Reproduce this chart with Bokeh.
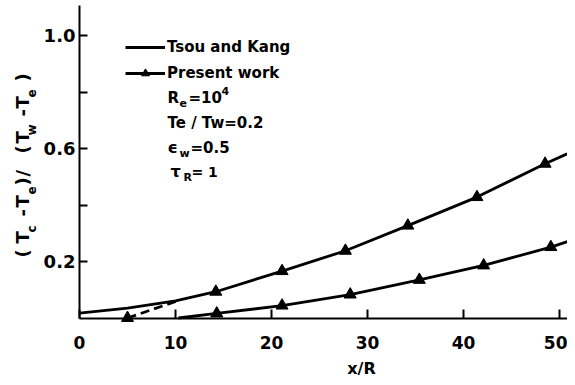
import math
from bokeh.plotting import figure
from bokeh.models import (Range1d, Label, Legend, LegendItem, FixedTicker,
                          PrintfTickFormatter)
from bokeh.embed import file_html
from bokeh.resources import INLINE

# ---------------- data ----------------
tsou_x = [0.0, 5.0, 10.0, 14.2, 21.1, 27.7, 34.2, 41.4, 48.5, 50.8]
tsou_y = [0.017, 0.035, 0.061, 0.093, 0.166, 0.238, 0.327, 0.428, 0.546, 0.581]

upper_tri_x = [5.0, 14.2, 21.1, 27.7, 34.2, 41.4, 48.5]
upper_tri_y = [0.0, 0.093, 0.166, 0.238, 0.327, 0.428, 0.546]

dash_x = [5.0, 10.5]
dash_y = [0.0, 0.064]

lower_x = [10.3, 14.3, 21.1, 28.2, 35.4, 42.1, 49.1, 51.7]
lower_y = [0.0, 0.016, 0.044, 0.083, 0.135, 0.186, 0.251, 0.280]

lower_tri_x = [14.3, 21.1, 28.2, 35.4, 42.1, 49.1]
lower_tri_y = [0.016, 0.044, 0.083, 0.135, 0.186, 0.251]

x_ticks = [0, 10, 20, 30, 40, 50]
y_ticks = [0.2, 0.4, 0.6, 0.8, 1.0]
y_tick_labels = {0.4: "", 0.8: ""}

# ---------------- layout helpers (picture px -> data) ----------------
W, H = 567, 377
X0, XS = 79.0, 9.6
Y0, YS = 317.5, 282.5
def dx(px):
    return (px - X0) / XS
def dy(py):
    return (Y0 - py) / YS

FONT = "DejaVu Sans"

p = figure(width=W, height=H,
           x_range=Range1d(dx(0), dx(W)),
           y_range=Range1d(dy(H), dy(0)),
           output_backend="svg", toolbar_location=None,
           min_border_left=0, min_border_right=0,
           min_border_top=0, min_border_bottom=0)
p.outline_line_color = None
p.grid.visible = False
p.background_fill_color = "white"
p.border_fill_color = "white"

# axes (drawn at x = 0 and y = 0)
for ax in (p.xaxis[0], p.yaxis[0]):
    ax.fixed_location = 0
    ax.axis_line_width = 2
    ax.axis_line_color = "black"
    ax.major_tick_line_width = 2
    ax.major_tick_line_color = "black"
    ax.major_tick_out = 0
    ax.minor_tick_line_color = None
    ax.major_label_text_font = FONT
    ax.major_label_text_font_style = "bold"
    ax.major_label_text_color = "black"

p.xaxis.bounds = (0, dx(W))
p.xaxis.ticker = FixedTicker(ticks=x_ticks)
p.xaxis.major_tick_in = 9
p.xaxis.major_label_text_font_size = "17px"
p.xaxis.major_label_standoff = 18

p.yaxis.bounds = (0, dy(5))
p.yaxis.ticker = FixedTicker(ticks=y_ticks)
p.yaxis.formatter = PrintfTickFormatter(format="%.1f")
p.yaxis.major_label_overrides = y_tick_labels
p.yaxis.major_tick_in = 8
p.yaxis.major_label_text_font_size = "18px"
p.yaxis.major_label_standoff = 4

# data marks
r_tsou = p.line(tsou_x, tsou_y, line_color="black", line_width=2.8)
p.line(dash_x, dash_y, line_color="black", line_width=2.8, line_dash="9 5")
p.scatter(upper_tri_x, upper_tri_y, marker="triangle", size=12,
          fill_color="black", line_color="black")
r_low = p.line(lower_x, lower_y, line_color="black", line_width=2.8)
r_low_tri = p.scatter(lower_tri_x, lower_tri_y, marker="triangle", size=12,
                      fill_color="black", line_color="black")

# legend
legend = Legend(items=[LegendItem(label="Tsou and Kang", renderers=[r_tsou]),
                       LegendItem(label="Present work", renderers=[r_low, r_low_tri])],
                location=(125, H - 83), orientation="vertical",
                glyph_width=40, glyph_height=20, label_height=20,
                label_standoff=2, spacing=6, padding=0, margin=0,
                border_line_alpha=0, background_fill_alpha=0,
                label_text_font=FONT, label_text_font_style="bold",
                label_text_font_size="15px", label_text_color="black")
p.add_layout(legend, "center")

def put(text, px, py, size, align="left", angle=0.0):
    p.add_layout(Label(x=dx(px), y=dy(py), text=text, angle=angle,
                       text_font=FONT, text_font_style="bold",
                       text_font_size=f"{size}px", text_color="black",
                       text_align=align, text_baseline="middle"))

# parameter block
put("R", 167, 97, 15)
put("e", 179, 102, 11)
put("=10", 188, 97, 15)
put("4", 221, 90, 11)
put("Te / Tw=0.2", 167, 122, 15)
put("\u03f5", 167, 147, 16)
put("w", 179, 153, 11)
put("=0.5", 190, 147, 15)
put("\u03c4", 170, 171, 16)
put("R", 183, 177, 11)
put("= 1", 191, 171, 14)

# x-axis title
put("x/R", 361, 368, 16, align="center")

# y-axis title, built up from pieces (rotated, reading upward)
ylabel_pieces = [("(", 257, False), ("T", 243, False), ("c", 232, True),
                 ("-", 216, False), ("T", 207, False), ("e", 194, True),
                 (")", 185, False), ("/", 176, False), ("(", 153, False),
                 ("T", 143, False), ("w", 135, True), ("-", 116, False),
                 ("T", 108, False), ("e", 97, True), (")", 81, False)]
for txt, py, sub in ylabel_pieces:
    if sub:
        put(txt, 31, py, 12, angle=math.pi / 2)
    else:
        put(txt, 21.5, py, 18, angle=math.pi / 2)

open("out.html", "w").write(file_html(p, INLINE))
